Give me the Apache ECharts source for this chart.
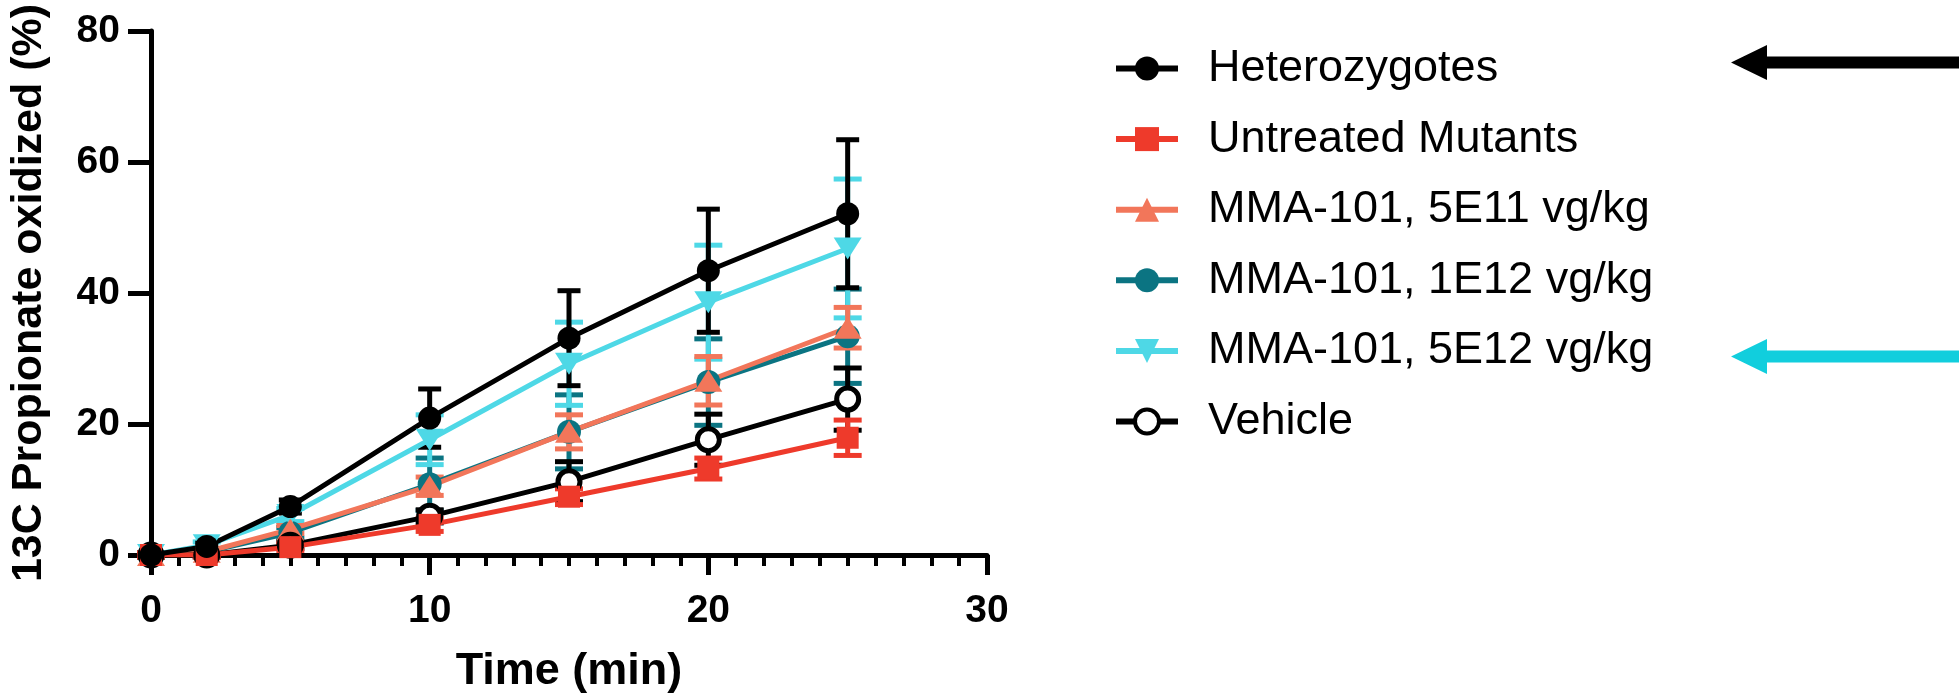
<!DOCTYPE html>
<html>
<head>
<meta charset="utf-8">
<script src="https://cdn.jsdelivr.net/npm/echarts@6/dist/echarts.min.js"></script>
<style>
html,body{margin:0;padding:0;background:#fff;}
#c{width:1959px;height:699px;}
</style>
</head>
<body>
<div id="c"></div>
<script>
// ---- data ----
const times = [0, 2, 5, 10, 15, 20, 25];
const xTicks = [0, 10, 20, 30];
const yTicks = [0, 20, 40, 60, 80];
const seriesNames = ['Heterozygotes', 'Untreated Mutants', 'MMA-101, 5E11 vg/kg', 'MMA-101, 1E12 vg/kg', 'MMA-101, 5E12 vg/kg', 'Vehicle'];

const hetMean = [0, 1.3, 7.4, 20.9, 33.1, 43.4, 52.1];
const hetSD   = [0.3, 0.5, 1.0, 4.45, 7.25, 9.4, 11.3];

const untreatedMean = [0, 0, 1.2, 4.6, 8.9, 13.2, 17.9];
const untreatedSD   = [0.3, 0.3, 0.5, 1.0, 1.2, 1.6, 2.7];

const mma5e11Mean = [0, 0.5, 3.9, 10.5, 18.8, 26.6, 34.7];
const mma5e11SD   = [0.3, 0.3, 0.6, 1.4, 2.6, 3.7, 3.1];

const mma1e12Mean = [0, 0.5, 3.4, 10.8, 18.8, 26.4, 33.4];
const mma1e12SD   = [0.3, 0.3, 0.8, 4.0, 5.65, 6.6, 7.2];

const mma5e12Mean = [0, 1.5, 6.1, 17.6, 29.2, 38.6, 46.8];
const mma5e12SD   = [0.3, 0.5, 1.0, 3.8, 6.35, 8.7, 10.6];

const vehicleMean = [0, 0, 1.5, 5.9, 11.2, 17.6, 23.8];
const vehicleSD   = [0.3, 0.3, 0.5, 1.0, 3.05, 3.9, 4.75];

// ---- styling ----
const FONT = '"Liberation Sans", Arial, Helvetica, sans-serif';
const groups = [
  // listed bottom-most first (drawing order)
  {name: seriesNames[3], mean: mma1e12Mean, sd: mma1e12SD, color: '#0B7482', symbol: 'circle', size: 24, rotate: 0, cap: 28},
  {name: seriesNames[4], mean: mma5e12Mean, sd: mma5e12SD, color: '#4ED8E6', symbol: 'triangle', size: [28, 22], rotate: 180, cap: 28},
  {name: seriesNames[2], mean: mma5e11Mean, sd: mma5e11SD, color: '#F2765A', symbol: 'triangle', size: [28, 22], rotate: 0, cap: 28},
  {name: seriesNames[5], mean: vehicleMean, sd: vehicleSD, color: '#000000', symbol: 'circle', size: 22, rotate: 0, cap: 28, open: true},
  {name: seriesNames[1], mean: untreatedMean, sd: untreatedSD, color: '#EE3A2B', symbol: 'rect', size: 22, rotate: 0, cap: 28},
  {name: seriesNames[0], mean: hetMean, sd: hetSD, color: '#000000', symbol: 'circle', size: 23, rotate: 0, cap: 23}
];

function errRender(color, capW, lw) {
  return function (params, api) {
    const t = api.value(0), m = api.value(1), s = api.value(2);
    const top = api.coord([t, m + s]);
    const bot = api.coord([t, m - s]);
    const style = {stroke: color, lineWidth: lw, fill: null};
    return {
      type: 'group',
      children: [
        {type: 'line', shape: {x1: top[0], y1: top[1], x2: bot[0], y2: bot[1]}, style: style},
        {type: 'line', shape: {x1: top[0] - capW / 2, y1: top[1], x2: top[0] + capW / 2, y2: top[1]}, style: style},
        {type: 'line', shape: {x1: bot[0] - capW / 2, y1: bot[1], x2: bot[0] + capW / 2, y2: bot[1]}, style: style}
      ]
    };
  };
}

const series = [];
groups.forEach(function (g) {
  series.push({
    name: g.name + ' SD',
    type: 'custom',
    renderItem: errRender(g.color, g.cap, 5),
    data: times.map(function (t, i) { return [t, g.mean[i], g.sd[i]]; }),
    encode: {x: 0, y: 1},
    silent: true,
    animation: false
  });
  series.push({
    name: g.name,
    type: 'line',
    data: times.map(function (t, i) { return [t, g.mean[i]]; }),
    symbol: g.symbol,
    symbolSize: g.size,
    symbolRotate: g.rotate,
    showSymbol: true,
    showAllSymbol: true,
    lineStyle: {color: g.color, width: 5},
    itemStyle: g.open ? {color: '#ffffff', borderColor: '#000000', borderWidth: 5} : {color: g.color, borderWidth: 0},
    emphasis: {disabled: true},
    silent: true,
    animation: false,
    z: 2
  });
});

const legendData = seriesNames.map(function (n) {
  if (n === 'Vehicle') {
    return {name: n, itemStyle: {color: '#ffffff', borderColor: '#000000', borderWidth: 4}};
  }
  return {name: n};
});

function arrow(yc, color) {
  const tip = 1731, base = 1767, right = 1959, hh = 17.5, sh = 6;
  return {
    type: 'polygon',
    shape: {points: [[tip, yc], [base, yc - hh], [base, yc - sh], [right, yc - sh], [right, yc + sh], [base, yc + sh], [base, yc + hh]]},
    style: {fill: color}
  };
}

const chart = echarts.init(document.getElementById('c'), null, {renderer: 'canvas'});
chart.setOption({
  animation: false,
  backgroundColor: '#ffffff',
  grid: {left: 151, right: 972, top: 31, bottom: 142, containLabel: false},
  xAxis: {
    type: 'value',
    min: xTicks[0], max: xTicks[xTicks.length - 1], interval: 10,
    name: 'Time (min)',
    nameLocation: 'middle',
    nameGap: 94,
    nameTextStyle: {fontFamily: FONT, fontWeight: 'bold', fontSize: 45, color: '#000'},
    axisLine: {show: true, lineStyle: {color: '#000', width: 5}},
    axisTick: {show: true, length: 20, lineStyle: {color: '#000', width: 5}},
    minorTick: {show: true, splitNumber: 10, length: 11, lineStyle: {color: '#000', width: 4}},
    splitLine: {show: false},
    minorSplitLine: {show: false},
    axisLabel: {fontFamily: FONT, fontWeight: 'bold', fontSize: 39, color: '#000', margin: 37}
  },
  yAxis: {
    type: 'value',
    min: yTicks[0], max: yTicks[yTicks.length - 1], interval: 20,
    name: '13C Propionate oxidized (%)',
    nameLocation: 'middle',
    nameGap: 100,
    nameTextStyle: {fontFamily: FONT, fontWeight: 'bold', fontSize: 43, color: '#000'},
    axisLine: {show: true, lineStyle: {color: '#000', width: 5}},
    axisTick: {show: true, length: 23, lineStyle: {color: '#000', width: 5}},
    splitLine: {show: false},
    axisLabel: {fontFamily: FONT, fontWeight: 'bold', fontSize: 39, color: '#000', margin: 31}
  },
  legend: {
    orient: 'vertical',
    left: 1108,
    top: 41,
    itemWidth: 62,
    itemHeight: 30,
    itemGap: 25.6,
    selectedMode: false,
    data: legendData,
    lineStyle: {width: 6},
    itemStyle: {borderWidth: 0},
    textStyle: {fontFamily: FONT, fontSize: 45, color: '#000', lineHeight: 30, padding: [0, 0, 0, 25]}
  },
  graphic: [arrow(62.5, '#000000'), arrow(356.5, '#11CEDD')],
  series: series
});
</script>
</body>
</html>
